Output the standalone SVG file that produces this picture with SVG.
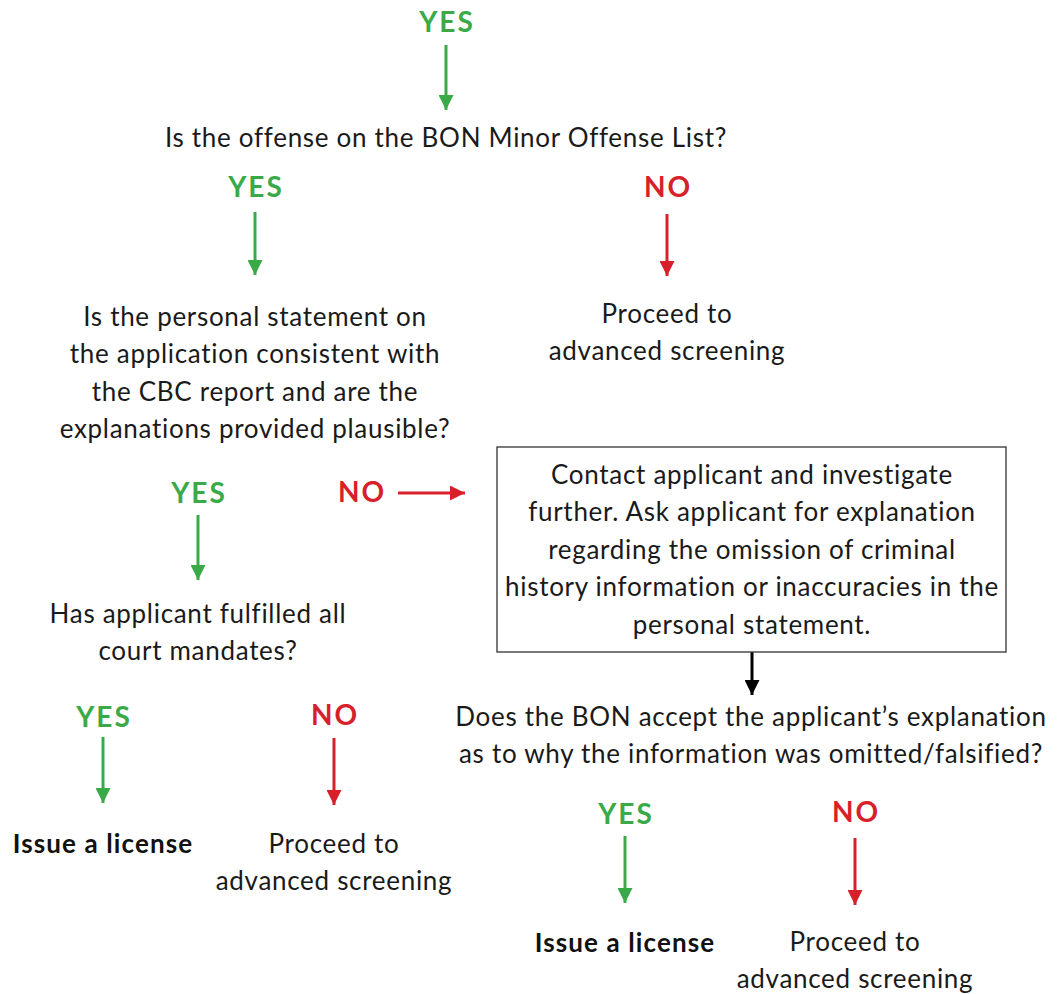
<svg xmlns="http://www.w3.org/2000/svg" width="1059" height="994" viewBox="0 0 1059 994">
<style>
.t{font-family:Lato,"Noto Sans",sans-serif;font-size:26px;letter-spacing:0.7px;fill:#1a1a1a;text-anchor:middle}
.b{font-family:Lato,"Noto Sans",sans-serif;font-size:26px;letter-spacing:1.1px;font-weight:bold;fill:#111;text-anchor:middle}
.yes{font-family:Lato,"Noto Sans",sans-serif;font-size:28px;letter-spacing:2px;font-weight:bold;fill:#3aaa48;text-anchor:middle}
.no{font-family:Lato,"Noto Sans",sans-serif;font-size:28px;letter-spacing:2px;font-weight:bold;fill:#d7202a;text-anchor:middle}
.g{stroke:#3aaa48;stroke-width:3;fill:none}
.r{stroke:#d7202a;stroke-width:3;fill:none}
.k{stroke:#000;stroke-width:3;fill:none}
</style>
<defs>
<marker id="ag" viewBox="0 0 10 10" refX="10" refY="5" markerWidth="5" markerHeight="5" orient="auto" markerUnits="strokeWidth"><path d="M0,0 L10,5 L0,10 z" fill="#3aaa48"/></marker>
<marker id="ar" viewBox="0 0 10 10" refX="10" refY="5" markerWidth="5" markerHeight="5" orient="auto" markerUnits="strokeWidth"><path d="M0,0 L10,5 L0,10 z" fill="#d7202a"/></marker>
<marker id="ak" viewBox="0 0 10 10" refX="10" refY="5" markerWidth="5" markerHeight="5" orient="auto" markerUnits="strokeWidth"><path d="M0,0 L10,5 L0,10 z" fill="#000"/></marker>
</defs>
<rect width="1059" height="994" fill="#fff"/>
<g id="connectors">
<path class="g" d="M446,45 V110" marker-end="url(#ag)"/>
<path class="g" d="M255,212 V275" marker-end="url(#ag)"/>
<path class="r" d="M667,214 V276" marker-end="url(#ar)"/>
<path class="g" d="M198,515 V580" marker-end="url(#ag)"/>
<path class="r" d="M398,493 H465" marker-end="url(#ar)"/>
<path class="k" d="M752,652 V695" marker-end="url(#ak)"/>
<path class="g" d="M103,737 V803" marker-end="url(#ag)"/>
<path class="r" d="M334,738 V805" marker-end="url(#ar)"/>
<path class="g" d="M625,836 V903" marker-end="url(#ag)"/>
<path class="r" d="M855,838 V905" marker-end="url(#ar)"/>
</g>
<g id="yes-top"><text class="yes" x="447" y="32">YES</text></g>
<g id="q1"><text class="t" x="446" y="147">Is the offense on the BON Minor Offense List?</text></g>
<g id="yes-q1"><text class="yes" x="256" y="197">YES</text></g>
<g id="no-q1"><text class="no" x="668" y="197">NO</text></g>
<g id="proceed1"><text class="t" x="667" y="323">Proceed to</text><text class="t" x="667" y="360">advanced screening</text></g>
<g id="q2">
<text class="t" x="255" y="326">Is the personal statement on</text>
<text class="t" x="255" y="363">the application consistent with</text>
<text class="t" x="255" y="401">the CBC report and are the</text>
<text class="t" x="255" y="438">explanations provided plausible?</text>
</g>
<g id="yes-q2"><text class="yes" x="199" y="503">YES</text></g>
<g id="no-q2"><text class="no" x="362" y="502">NO</text></g>
<g id="contact">
<rect x="497" y="447" width="509" height="205" fill="#fff" stroke="#333" stroke-width="1.3"/>
<text class="t" x="752" y="484">Contact applicant and investigate</text>
<text class="t" x="752" y="521">further. Ask applicant for explanation</text>
<text class="t" x="752" y="559">regarding the omission of criminal</text>
<text class="t" x="752" y="596">history information or inaccuracies in the</text>
<text class="t" x="752" y="634">personal statement.</text>
</g>
<g id="q3"><text class="t" x="198" y="623">Has applicant fulfilled all</text><text class="t" x="198" y="660">court mandates?</text></g>
<g id="q4"><text class="t" x="751" y="726">Does the BON accept the applicant’s explanation</text><text class="t" x="751" y="763">as to why the information was omitted/falsified?</text></g>
<g id="yes-q3"><text class="yes" x="104" y="727">YES</text></g>
<g id="no-q3"><text class="no" x="335" y="725">NO</text></g>
<g id="issue1"><text class="b" x="103" y="853">Issue a license</text></g>
<g id="proceed2"><text class="t" x="334" y="853">Proceed to</text><text class="t" x="334" y="890">advanced screening</text></g>
<g id="yes-q4"><text class="yes" x="626" y="824">YES</text></g>
<g id="no-q4"><text class="no" x="856" y="822">NO</text></g>
<g id="issue2"><text class="b" x="625" y="952">Issue a license</text></g>
<g id="proceed3"><text class="t" x="855" y="951">Proceed to</text><text class="t" x="855" y="988">advanced screening</text></g>
</svg>
